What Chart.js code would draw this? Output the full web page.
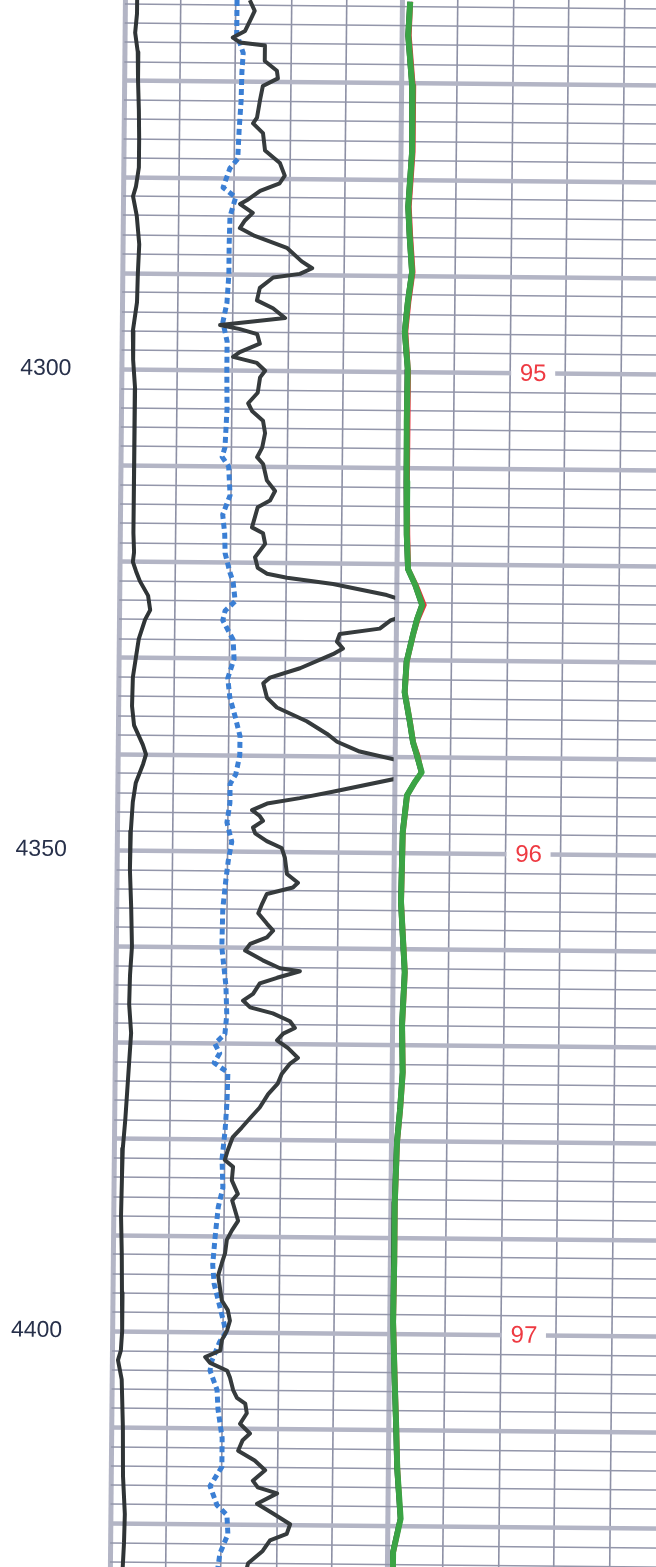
<!DOCTYPE html>
<html>
<head>
<meta charset="utf-8">
<script src="https://cdn.jsdelivr.net/npm/chart.js@4.4.1/dist/chart.umd.min.js"></script>
<style>
    html, body { margin: 0; padding: 0; background: #fff; overflow: hidden; }
    #log { display: block; }
</style>
</head>
<body>
<canvas id="log" width="690" height="1590"></canvas>
<script>
// ---- depth labels (left) and red markers (track 2) ----
const depthLabels = [4300, 4350, 4400];
const markerDepths = [4300, 4350, 4400];
const markerLabels = ['95', '96', '97'];

// ---- track 1 : left solid curve ----
const aDepth = [4261.5, 4263, 4265, 4267, 4270, 4273, 4276, 4279, 4281, 4282,
    4284, 4287, 4290, 4293, 4296, 4299, 4302, 4306, 4310, 4314,
    4317, 4319, 4320, 4321, 4322, 4323.5, 4325, 4326, 4328, 4330,
    4332, 4335, 4337, 4339, 4340, 4341, 4343, 4345, 4348, 4352,
    4356, 4360, 4363, 4366, 4369, 4372, 4375, 4378, 4381, 4384,
    4388, 4392, 4396, 4400, 4402, 4403, 4405, 4410, 4415, 4419,
    4422, 4426];
const aVal = [0.22, 0.22, 0.19, 0.24, 0.25, 0.27, 0.28, 0.28, 0.23, 0.18,
    0.25, 0.30, 0.28, 0.27, 0.20, 0.21, 0.25, 0.24, 0.24, 0.25,
    0.25, 0.26, 0.24, 0.30, 0.37, 0.52, 0.56, 0.47, 0.36, 0.31,
    0.26, 0.25, 0.29, 0.45, 0.51, 0.46, 0.33, 0.28, 0.25, 0.24,
    0.27, 0.29, 0.26, 0.25, 0.29, 0.26, 0.23, 0.20, 0.16, 0.15,
    0.14, 0.16, 0.17, 0.18, 0.16, 0.11, 0.18, 0.21, 0.22, 0.26,
    0.25, 0.22];

// ---- track 1 : blue dotted curve ----
const bDepth = [4261.5, 4263, 4265, 4267, 4269, 4272, 4275, 4278, 4279, 4281,
    4282, 4284, 4287, 4290, 4293, 4295, 4297, 4300, 4304, 4308,
    4309, 4310, 4313, 4315, 4317, 4319, 4321, 4322, 4324, 4325,
    4326, 4328, 4330, 4332, 4334, 4336, 4338, 4340, 4342, 4343,
    4345, 4347, 4349, 4351, 4353, 4356, 4360, 4364, 4367, 4369,
    4370, 4371, 4372, 4373, 4376, 4379, 4382, 4385, 4387, 4390,
    4393, 4395, 4397, 4399, 4400, 4401, 4403, 4404, 4406, 4408,
    4411, 4414, 4416, 4418, 4419, 4421, 4423, 4426];
const bVal = [2.02, 2.02, 2.02, 2.14, 2.12, 2.11, 2.08, 2.06, 1.92, 1.80,
    2.03, 1.93, 1.92, 1.92, 1.89, 1.82, 1.90, 1.90, 1.91, 1.88,
    1.83, 1.95, 1.98, 1.85, 1.89, 1.90, 1.99, 2.05, 2.09, 1.91,
    1.87, 2.06, 2.08, 1.97, 2.01, 2.11, 2.20, 2.20, 2.13, 2.03,
    2.03, 1.98, 2.07, 2.01, 1.97, 1.92, 1.91, 1.99, 2.01, 1.98,
    1.80, 1.89, 1.79, 2.04, 2.03, 2.00, 1.95, 1.97, 1.89, 1.84,
    1.80, 1.83, 1.92, 2.01, 2.05, 1.94, 1.80, 1.77, 1.90, 1.92,
    2.00, 2.00, 1.79, 1.92, 2.10, 2.12, 1.98, 1.91];

// ---- track 1 : dark jagged curve (goes off scale twice) ----
const cDepth = [4261.5, 4262.6, 4263.6, 4264.7, 4265.4, 4265.9, 4266.2, 4267.8, 4268.8, 4269.6,
    4270.4, 4271.9, 4273.7, 4274.3, 4275.3, 4277.1, 4278.4, 4279.7, 4280.5, 4281.3,
    4282.3, 4282.7, 4283.6, 4284.4, 4285.2, 4286.0, 4287.2, 4288.6, 4289.3, 4289.9,
    4290.3, 4291.4, 4292.7, 4293.5, 4294.5, 4294.9, 4295.3, 4295.7, 4296.2, 4297.2,
    4298.1, 4298.6, 4299.2, 4300.0, 4300.7, 4302.3, 4303.4, 4304.2, 4305.2, 4306.5,
    4308.0, 4309.0, 4309.7, 4311.4, 4312.5, 4313.5, 4314.2, 4316.3, 4316.9, 4318.0,
    4319.4, 4320.5, 4321.1, 4321.5, 4322.1, 4323.2, 4324.6, 4325.8, 4326.7, 4327.3,
    4328.1, 4328.8, 4329.4, 4330.9, 4331.9, 4332.5, 4334.0, 4335.0, 4336.4, 4337.7,
    4338.5, 4339.5, 4341.3, 4343.7, 4344.4, 4345.0, 4345.7, 4346.3, 4346.8, 4347.5,
    4348.1, 4348.9, 4349.6, 4350.6, 4352.3, 4353.2, 4353.7, 4354.4, 4355.4, 4356.4,
    4357.5, 4358.2, 4358.9, 4359.6, 4360.3, 4361.3, 4362.1, 4362.4, 4363.1, 4363.7,
    4364.8, 4365.5, 4366.2, 4366.8, 4367.6, 4368.3, 4368.9, 4369.6, 4370.4, 4371.4,
    4372.0, 4373.1, 4374.1, 4375.2, 4376.6, 4377.7, 4378.7, 4379.7, 4381.1, 4382.1,
    4382.8, 4384.2, 4385.6, 4386.3, 4388.4, 4389.4, 4390.4, 4391.8, 4392.7, 4394.1,
    4396.7, 4397.7, 4398.8, 4399.8, 4400.8, 4401.9, 4402.6, 4403.2, 4404.0, 4404.7,
    4406.0, 4406.8, 4407.4, 4408.4, 4409.5, 4410.5, 4411.2, 4412.3, 4413.3, 4414.3,
    4415.4, 4416.1, 4416.7, 4417.8, 4418.8, 4419.9, 4420.9, 4421.6, 4422.7, 4424.0,
    4425.3, 4426.3];
const cVal = [2.25, 2.34, 2.26, 2.17, 1.95, 2.08, 2.53, 2.53, 2.75, 2.77,
    2.50, 2.45, 2.40, 2.33, 2.51, 2.55, 2.82, 2.91, 2.82, 2.47,
    2.23, 2.11, 2.34, 2.20, 2.11, 2.38, 2.96, 3.23, 3.42, 3.20,
    2.72, 2.48, 2.43, 2.72, 2.94, 2.36, 1.77, 2.13, 2.44, 2.49,
    2.13, 2.01, 2.44, 2.59, 2.50, 2.46, 2.29, 2.36, 2.56, 2.60,
    2.55, 2.46, 2.57, 2.64, 2.79, 2.70, 2.48, 2.38, 2.58, 2.62,
    2.44, 2.49, 2.66, 3.02, 3.85, 4.82, 5.60, 4.90, 4.70, 3.98,
    3.93, 4.04, 3.86, 3.27, 2.73, 2.61, 2.68, 2.86, 3.40, 3.77,
    3.95, 4.36, 5.80, 3.88, 3.29, 2.70, 2.43, 2.57, 2.63, 2.45,
    2.49, 2.70, 2.97, 3.03, 3.07, 3.27, 3.18, 2.71, 2.63, 2.56,
    2.72, 2.83, 2.72, 2.42, 2.33, 2.65, 2.96, 3.32, 2.91, 2.60,
    2.48, 2.30, 2.43, 2.84, 3.15, 3.24, 3.03, 2.92, 3.12, 3.30,
    3.16, 3.01, 2.94, 2.77, 2.62, 2.45, 2.30, 2.14, 2.05, 2.00,
    2.15, 2.13, 2.24, 2.14, 2.25, 2.14, 2.05, 2.02, 1.97, 1.90,
    1.97, 2.08, 2.12, 2.07, 1.98, 1.95, 1.68, 1.77, 2.08, 2.13,
    2.19, 2.26, 2.41, 2.44, 2.32, 2.50, 2.37, 2.29, 2.59, 2.78,
    2.56, 2.65, 3.00, 2.64, 2.93, 3.24, 3.18, 2.88, 2.75, 2.49,
    2.43, 2.40];

// ---- track 2 : green curve + the three curves hidden under it ----
const gDepth = [4261.5, 4265.0, 4270.2, 4277.1, 4282.8, 4285.8, 4289.6, 4292.7, 4295.8, 4299.7,
    4305.2, 4311.4, 4316.9, 4320.5, 4322.1, 4324.2, 4325.7, 4327.3, 4330.1, 4333.3,
    4336.4, 4338.5, 4339.8, 4341.6, 4342.6, 4344.0, 4347.8, 4355.1, 4362.4, 4367.9,
    4372.8, 4376.6, 4380.0, 4386.3, 4392.5, 4398.8, 4405.0, 4409.1, 4414.0, 4419.2,
    4422.7, 4426.3];
const gVal = [5.14, 5.11, 5.19, 5.20, 5.14, 5.17, 5.22, 5.15, 5.10, 5.16,
    5.15, 5.16, 5.17, 5.20, 5.33, 5.46, 5.37, 5.30, 5.19, 5.16,
    5.26, 5.32, 5.39, 5.48, 5.36, 5.22, 5.15, 5.13, 5.21, 5.17,
    5.19, 5.15, 5.10, 5.07, 5.07, 5.06, 5.10, 5.13, 5.16, 5.23,
    5.10, 5.10];
const redVal = [5.17, 5.15, 5.23, 5.24, 5.18, 5.21, 5.26, 5.19, 5.14, 5.19,
    5.19, 5.20, 5.21, 5.23, 5.37, 5.52, 5.41, 5.33, 5.22, 5.19,
    5.29, 5.35, 5.43, 5.50, 5.39, 5.25, 5.18, 5.16, 5.24, 5.20,
    5.22, 5.18, 5.13, 5.10, 5.10, 5.09, 5.13, 5.16, 5.19, 5.25,
    5.13, 5.13];
const blueVal = [5.15, 5.13, 5.20, 5.22, 5.16, 5.18, 5.23, 5.17, 5.12, 5.18,
    5.17, 5.18, 5.19, 5.21, 5.35, 5.47, 5.38, 5.31, 5.21, 5.18,
    5.27, 5.33, 5.41, 5.50, 5.38, 5.24, 5.16, 5.15, 5.23, 5.19,
    5.21, 5.17, 5.12, 5.09, 5.09, 5.08, 5.12, 5.15, 5.18, 5.25,
    5.12, 5.12];
const blackVal = [5.11, 5.08, 5.16, 5.17, 5.11, 5.14, 5.19, 5.12, 5.07, 5.13,
    5.12, 5.13, 5.14, 5.17, 5.30, 5.43, 5.34, 5.27, 5.16, 5.13,
    5.23, 5.29, 5.36, 5.45, 5.33, 5.19, 5.12, 5.10, 5.18, 5.14,
    5.16, 5.12, 5.07, 5.04, 5.04, 5.03, 5.07, 5.10, 5.13, 5.20,
    5.07, 5.07];

// grid: one vertical line per division, horizontal every 2 depth units
const xGrid = [0, 1, 2, 3, 4, 5, 6, 7, 8, 9, 10];
const depthGrid = [];
for (let d = 4262; d <= 4426; d += 2) depthGrid.push(d);

const markerPos = 7.42;   // x position (divisions) of the red markers
const TILT = 0.0096;      // the scan is slightly rotated

function pts(depths, vals) {
    return depths.map((d, i) => ({ x: vals[i], y: d }));
}

function curve(depths, vals, color, width, extra) {
    return Object.assign({
        data: pts(depths, vals),
        showLine: true,
        borderColor: color,
        borderWidth: width,
        pointRadius: 0,
        tension: 0,
        fill: false,
        borderJoinStyle: 'round'
    }, extra || {});
}

// rotate everything a little, then draw the red markers on the thick lines
const tiltPlugin = {
    id: 'tilt',
    beforeDraw(chart) {
        const ctx = chart.ctx;
        ctx.save();
        ctx.translate(0, -7);
        ctx.rotate(TILT);
    },
    afterDraw(chart) {
        const ctx = chart.ctx;
        const xs = chart.scales.x, ys = chart.scales.y;
        ctx.font = '24px "Liberation Sans", Arial, sans-serif';
        ctx.textAlign = 'center';
        ctx.textBaseline = 'middle';
        markerDepths.forEach((d, i) => {
            const px = xs.getPixelForValue(markerPos);
            const py = ys.getPixelForValue(d);
            ctx.fillStyle = '#ffffff';
            ctx.fillRect(px - 22, py - 4, 44, 8);
            ctx.fillStyle = '#ee3a42';
            ctx.fillText(markerLabels[i], px, py + 1);
        });
        ctx.restore();
    }
};

new Chart(document.getElementById('log'), {
    type: 'scatter',
    data: {
        datasets: [
            curve(gDepth, gVal, '#3ba445', 6),
            curve(gDepth, redVal, '#e8323c', 2.5),
            curve(gDepth, blueVal, '#3a7fd6', 2.5),
            curve(gDepth, blackVal, '#1d2124', 2.5),
            // clip at the right edge of track 1
            curve(cDepth, cVal, '#363b3d', 4, { clip: { left: 5, top: 5, right: -289, bottom: 5 } }),
            curve(bDepth, bVal, '#3b7fd4', 5, { borderDash: [6, 4] }),
            curve(aDepth, aVal, '#2f3436', 4)
        ]
    },
    options: {
        responsive: false,
        animation: false,
        layout: { padding: 0 },
        plugins: {
            legend: { display: false },
            tooltip: { enabled: false }
        },
        scales: {
            x: {
                type: 'linear',
                min: 0,
                max: 10.18,
                border: { display: false },
                afterBuildTicks: s => { s.ticks = xGrid.map(v => ({ value: v })); },
                afterFit: s => { s.height = 0; },
                ticks: { display: false },
                grid: {
                    drawTicks: false,
                    color: c => (c.tick && (c.tick.value === 0 || c.tick.value === 5)) ? '#b3b5c5' : '#8d90a5',
                    lineWidth: c => (c.tick && (c.tick.value === 0 || c.tick.value === 5)) ? 5 : 1.6
                }
            },
            y: {
                type: 'linear',
                reverse: true,
                min: 4261.0,
                max: 4426.3,
                border: { display: false },
                afterBuildTicks: s => { s.ticks = depthGrid.map(v => ({ value: v })); },
                afterFit: s => { s.width = 125; s.paddingTop = 0; s.paddingBottom = 0; },
                ticks: {
                    autoSkip: false,
                    padding: 50,
                    color: '#27304a',
                    font: { family: '"Liberation Sans", Arial, sans-serif', size: 23 },
                    callback: v => depthLabels.includes(v) ? String(v) : ''
                },
                grid: {
                    drawTicks: false,
                    color: c => (c.tick && c.tick.value % 10 === 0) ? '#b3b5c5' : '#9396aa',
                    lineWidth: c => (c.tick && c.tick.value % 10 === 0) ? 4.5 : 1.5
                }
            }
        }
    },
    plugins: [tiltPlugin]
});
</script>
</body>
</html>
